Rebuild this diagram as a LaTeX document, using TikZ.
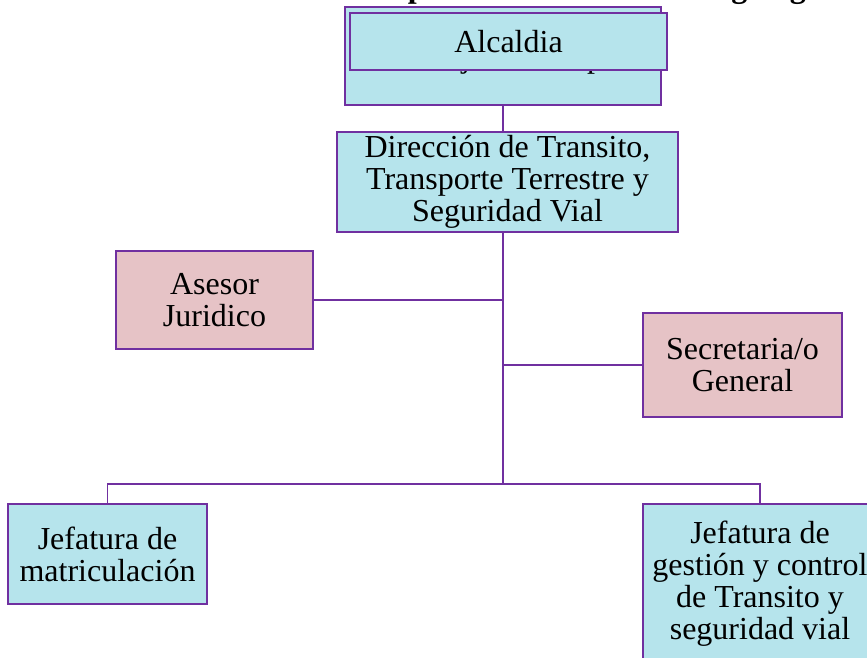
\documentclass[tikz,border=0pt]{standalone}
\usepackage{fontspec}
\setmainfont{Liberation Serif}
\definecolor{vio}{HTML}{7030A0}
\definecolor{aqua}{HTML}{B6E4EC}
\definecolor{rose}{HTML}{E6C3C6}
\tikzset{
  box/.style={draw=vio, line width=2.6pt, align=center, inner sep=0pt,
    font=\fontsize{32}{32}\selectfont},
  bluebox/.style={box, fill=aqua},
  pinkbox/.style={box, fill=rose},
  link/.style={draw=vio, line width=1.6pt},
  titletext/.style={anchor=base west, inner sep=0pt, font=\fontsize{32}{32}\selectfont}
}
\begin{document}
\begin{tikzpicture}[x=1pt,y=-1pt]
\useasboundingbox (0,0) rectangle (867,657);
\clip (0,0) rectangle (867,657);
\node[titletext] (title) at (178,-3) {Ilustración 1: \textbf{Propuesta de cambio del organigrama estructural}};
\node[bluebox, minimum width=316pt, minimum height=98pt, text height=22pt, text depth=0pt] (concejo) at (503,56) {Concejo Municipal};
\node[bluebox, minimum width=317pt, minimum height=57pt] (alcaldia) at (508.5,41.5) {Alcaldia};
\node[bluebox, minimum width=341pt, minimum height=100pt] (dir) at (507.5,182) {Dirección de Transito,\\Transporte Terrestre y\\Seguridad Vial};
\node[pinkbox, minimum width=197pt, minimum height=98pt] (asesor) at (214.5,300) {Asesor\\Juridico};
\node[pinkbox, minimum width=199pt, minimum height=104pt] (secre) at (742.5,365) {Secretaria/o\\General};
\node[bluebox, minimum width=199pt, minimum height=100pt] (jm) at (107.5,554) {Jefatura de\\matriculación};
\node[bluebox, minimum width=234pt, minimum height=160pt] (jg) at (760,584) {Jefatura de\\gestión y control\\de Transito y\\seguridad vial};
\coordinate (t) at (503,484);
\draw[link] (concejo.south) -- (concejo.south |- dir.north);
\draw[link] (dir.south -| concejo.south) -- (t);
\draw[link] (asesor.east) -- (asesor.east -| t);
\draw[link] (secre.west) -- (secre.west -| t);
\draw[link] (jm.north) -- (jm.north |- t) -- (t -| jg.north) -- (jg.north);
\end{tikzpicture}
\end{document}
